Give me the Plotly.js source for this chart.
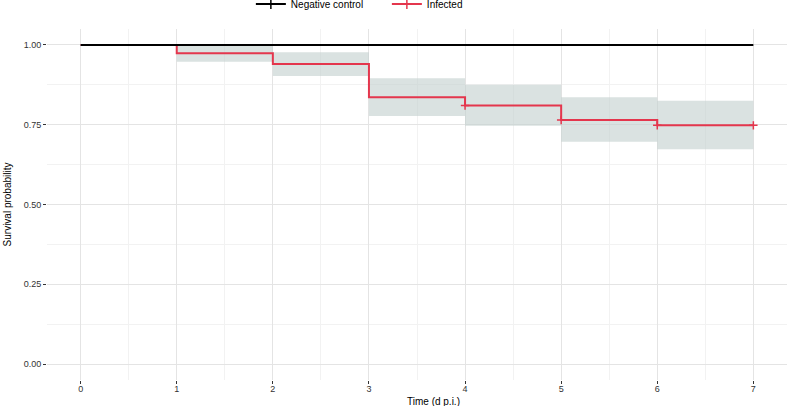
<!DOCTYPE html>
<html><head><meta charset="utf-8">
<script src="https://cdn.plot.ly/plotly-3.0.1.min.js"></script>
<style>html,body{margin:0;padding:0;background:#fff}#chart{width:787px;height:406px}</style>
</head><body><div id="chart"></div>
<script>
const times = [0, 1, 2, 3, 4, 5, 6, 7];
const controlSurv = [1, 1, 1, 1, 1, 1, 1, 1];
const infectedSurv = [1, 0.974, 0.94, 0.836, 0.81, 0.765, 0.748, 0.748];
const infectedUpper = [1, 1, 0.977, 0.896, 0.875, 0.836, 0.825, 0.825];
const infectedLower = [1, 0.947, 0.903, 0.777, 0.747, 0.697, 0.673, 0.673];
const censorTimes = [4, 5, 6, 7];
const censorSurv = [0.81, 0.765, 0.748, 0.748];
const xTicks = [0, 1, 2, 3, 4, 5, 6, 7];
const yTicks = [0, 0.25, 0.5, 0.75, 1];
const yTickLabels = ['0.00', '0.25', '0.50', '0.75', '1.00'];

const RED = '#e4364d';
const BAND = 'rgba(196,209,207,0.62)';
const FONT = 'Liberation Sans, Arial, sans-serif';

const traces = [
  {x: times, y: infectedLower, mode: 'lines', line: {shape: 'hv', width: 0}, showlegend: false, hoverinfo: 'skip'},
  {x: times, y: infectedUpper, mode: 'lines', line: {shape: 'hv', width: 0}, fill: 'tonexty', fillcolor: BAND, showlegend: false, hoverinfo: 'skip'},
  {x: times, y: infectedSurv, mode: 'lines', line: {shape: 'hv', width: 2, color: RED}, showlegend: false},
  {x: censorTimes, y: censorSurv, mode: 'markers', marker: {symbol: 'cross-thin', size: 6, line: {width: 1.5, color: RED}, color: RED}, showlegend: false},
  {x: times, y: controlSurv, mode: 'lines', line: {shape: 'hv', width: 2, color: '#000'}, showlegend: false},
  {x: [null], y: [null], mode: 'lines+markers', name: 'Negative control', line: {color: '#000', width: 2}, marker: {symbol: 'cross-thin', size: 7, line: {width: 1.5, color: '#000'}}},
  {x: [null], y: [null], mode: 'lines+markers', name: 'Infected', line: {color: RED, width: 2}, marker: {symbol: 'cross-thin', size: 7, line: {width: 1.5, color: RED}}}
];

const layout = {
  width: 787, height: 406,
  margin: {l: 47, r: 0, t: 29, b: 26, autoexpand: false},
  paper_bgcolor: '#fff', plot_bgcolor: '#fff',
  font: {family: FONT, size: 9, color: '#222'},
  showlegend: true,
  legend: {orientation: 'h', traceorder: 'normal', x: 0.2755, xanchor: 'left', y: 1.071, yanchor: 'middle', font: {size: 10, color: '#000'}, itemwidth: 30, entrywidth: 91, entrywidthmode: 'pixels', tracegroupgap: 0},
  xaxis: {
    range: [-0.35, 7.35], tickvals: xTicks, ticktext: xTicks.map(String),
    ticks: 'outside', ticklen: 3, tickwidth: 1, tickcolor: '#333',
    ticklabelstandoff: -3,
    showgrid: true, gridcolor: '#e4e4e4', gridwidth: 1,
    minor: {dtick: 0.5, tick0: 0, showgrid: true, gridcolor: '#f2f2f2', gridwidth: 1},
    zeroline: false, showline: false,
    tickfont: {size: 9, color: '#333'}
  },
  yaxis: {
    range: [-0.05, 1.05], tickvals: yTicks, ticktext: yTickLabels,
    ticks: 'outside', ticklen: 3, tickwidth: 1, tickcolor: '#333',
    showgrid: true, gridcolor: '#e4e4e4', gridwidth: 1,
    minor: {dtick: 0.125, tick0: 0, showgrid: true, gridcolor: '#f2f2f2', gridwidth: 1},
    zeroline: false, showline: false,
    tickfont: {size: 9, color: '#333'}
  },
  annotations: [
    {text: 'Time (d p.i.)', xref: 'paper', yref: 'paper', x: 0.5217, y: -0.06, xanchor: 'center', yanchor: 'middle', showarrow: false, font: {size: 10, color: '#000'}},
    {text: 'Survival probability', xref: 'paper', yref: 'paper', x: -0.0528, y: 0.5, xanchor: 'center', yanchor: 'middle', textangle: -90, showarrow: false, font: {size: 10, color: '#000'}}
  ]
};

Plotly.newPlot('chart', traces, layout, {displayModeBar: false, staticPlot: true});
</script>
</body></html>
